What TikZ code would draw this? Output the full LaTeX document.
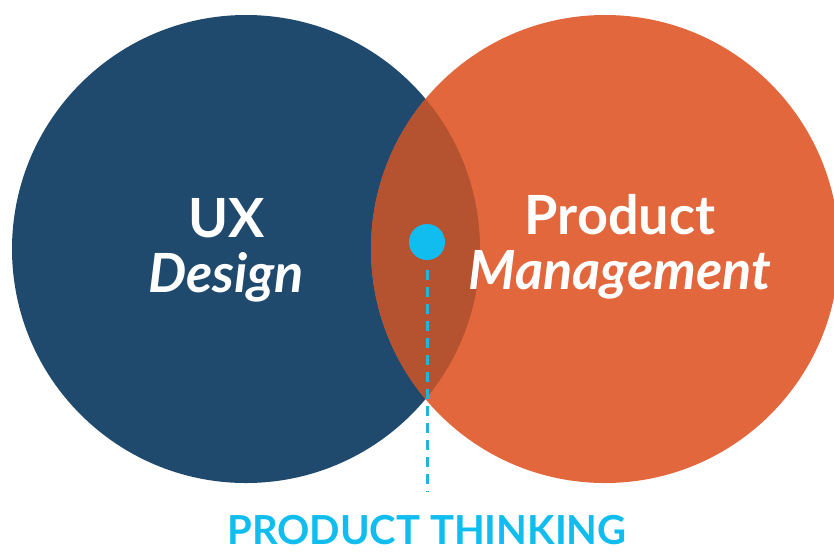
\documentclass[tikz,border=0pt]{standalone}
\usepackage{fontspec}
\setmainfont{Lato}
\definecolor{uxblue}{HTML}{1F4A6E}
\definecolor{pmorange}{HTML}{E2673D}
\definecolor{overlap}{HTML}{B5522F}
\definecolor{dotcyan}{HTML}{10BDEE}
\definecolor{dashcyan}{HTML}{22B4DC}
\begin{document}
\begin{tikzpicture}[x=1pt,y=-1pt,
  lbl/.style={text=white,font=\bfseries,inner sep=0pt,align=center},
]
\useasboundingbox (0,0) rectangle (834,552);
\begin{scope}
\clip (0,0) rectangle (834,552);
\fill[uxblue] (246,249) circle[radius=234];
\fill[pmorange] (605,249) circle[radius=234];
\begin{scope}
\clip (246,249) circle[radius=234];
\fill[overlap] (605,249) circle[radius=234];
\end{scope}
\end{scope}
\node[lbl,anchor=base] (ux) at (227,237) {\fontsize{54}{54}\selectfont UX};
\node[lbl,anchor=base] (design) at (226,292) {\fontsize{54}{54}\selectfont\itshape Design};
\node[lbl,anchor=base] (product) at (620,234) {\fontsize{54}{54}\selectfont Product};
\node[lbl,anchor=base] (mgmt) at (620,289) {\fontsize{54}{54}\selectfont\itshape Management};
\node[circle,fill=dotcyan,minimum size=36pt,inner sep=0pt] (dot) at (427,242) {};
\coordinate (dashend) at (427,492);
\draw[dashcyan,line width=3pt,dash pattern=on 10pt off 7pt] ([yshift=-10pt]dot.south) -- (dashend);
\node[text=dotcyan,font=\bfseries,inner sep=0pt,text depth=0pt,anchor=base] (pt) at (427,544) {\fontsize{40}{40}\selectfont PRODUCT THINKING};
\end{tikzpicture}
\end{document}
